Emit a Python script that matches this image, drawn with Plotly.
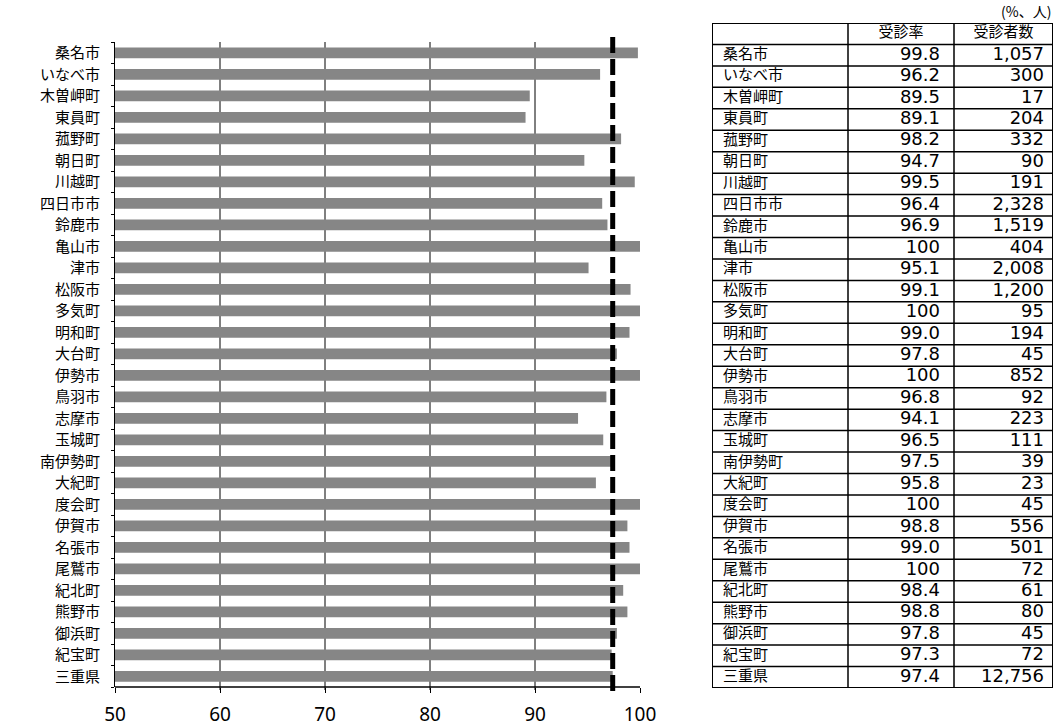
import plotly.graph_objects as go

# ---- data ----
NAMES = ["桑名市", "いなべ市", "木曽岬町", "東員町", "菰野町", "朝日町", "川越町",
         "四日市市", "鈴鹿市", "亀山市", "津市", "松阪市", "多気町", "明和町",
         "大台町", "伊勢市", "鳥羽市", "志摩市", "玉城町", "南伊勢町", "大紀町",
         "度会町", "伊賀市", "名張市", "尾鷲市", "紀北町", "熊野市", "御浜町",
         "紀宝町", "三重県"]
RATES = [99.8, 96.2, 89.5, 89.1, 98.2, 94.7, 99.5,
         96.4, 96.9, 100, 95.1, 99.1, 100, 99.0,
         97.8, 100, 96.8, 94.1, 96.5, 97.5, 95.8,
         100, 98.8, 99.0, 100, 98.4, 98.8, 97.8,
         97.3, 97.4]
COUNTS = [1057, 300, 17, 204, 332, 90, 191,
          2328, 1519, 404, 2008, 1200, 95, 194,
          45, 852, 92, 223, 111, 39, 23,
          45, 556, 501, 72, 61, 80, 45,
          72, 12756]
X_TICKS = [50, 60, 70, 80, 90, 100]
GRID_X = [60, 70, 80, 90]
HEADERS = ["受診率", "受診者数"]
UNIT_NOTE = "(%、人)"
PREF_NAME = "三重県"

W, H = 1061, 728


def px(v):
    return v / W


def py(v):
    return 1 - v / H


rate_text = ["100" if r == 100 else f"{r:.1f}" for r in RATES]
count_text = [f"{c:,}" for c in COUNTS]
pref_rate = RATES[NAMES.index(PREF_NAME)]

CJK = "Noto Sans CJK JP"
NUMF = "DejaVu Sans"

fig = go.Figure()

# ---- bar chart ----
fig.add_trace(go.Bar(
    x=RATES, y=NAMES, orientation="h",
    marker=dict(color="#868686", line=dict(width=0)),
    width=0.5, xaxis="x", yaxis="y", showlegend=False, hoverinfo="skip",
))

# ---- table (on its own hidden axes) ----
COL_EDGES = [0, 136, 242, 341]
n = len(NAMES)
rows_y = [i + 1.5 for i in range(n)]

fig.add_trace(go.Scatter(
    x=[COL_EDGES[0] + 11] * n, y=rows_y, text=NAMES, mode="text",
    textposition="middle right", textfont=dict(family=CJK, size=15, color="black"),
    xaxis="x2", yaxis="y2", showlegend=False, hoverinfo="skip",
))
fig.add_trace(go.Scatter(
    x=[COL_EDGES[2] - 14] * n, y=rows_y, text=rate_text, mode="text",
    textposition="middle left", textfont=dict(family=NUMF, size=18, color="black"),
    xaxis="x2", yaxis="y2", showlegend=False, hoverinfo="skip",
))
fig.add_trace(go.Scatter(
    x=[COL_EDGES[3] - 9] * n, y=rows_y, text=count_text, mode="text",
    textposition="middle left", textfont=dict(family=NUMF, size=18, color="black"),
    xaxis="x2", yaxis="y2", showlegend=False, hoverinfo="skip",
))
fig.add_trace(go.Scatter(
    x=[(COL_EDGES[1] + COL_EDGES[2]) / 2, (COL_EDGES[2] + COL_EDGES[3]) / 2],
    y=[0.5, 0.5], text=HEADERS, mode="text",
    textposition="middle center", textfont=dict(family=CJK, size=15, color="black"),
    xaxis="x2", yaxis="y2", showlegend=False, hoverinfo="skip",
))

shapes = []
# table borders
for k, xe in enumerate(COL_EDGES):
    outer = k in (0, len(COL_EDGES) - 1)
    shapes.append(dict(type="line", xref="x2", yref="y2", x0=xe, x1=xe, y0=0, y1=n + 1,
                       line=dict(color="black", width=2 if outer else 1.5)))
for r in range(n + 2):
    outer = r in (0, n + 1)
    shapes.append(dict(type="line", xref="x2", yref="y2", x0=COL_EDGES[0], x1=COL_EDGES[-1],
                       y0=r, y1=r, line=dict(color="black", width=2 if outer else 1.5)))

# chart gridlines
for g in GRID_X:
    shapes.append(dict(type="line", xref="x", yref="paper", x0=g, x1=g,
                       y0=py(690), y1=py(42), layer="below",
                       line=dict(color="black", width=1)))
# x axis line (50..100)
shapes.append(dict(type="line", xref="x", yref="paper", x0=X_TICKS[0], x1=X_TICKS[-1],
                   y0=py(687), y1=py(687), line=dict(color="black", width=1.5)))
# prefecture average dashed line
shapes.append(dict(type="line", xref="x", yref="paper", x0=pref_rate, x1=pref_rate,
                   y0=py(691), y1=py(33), line=dict(color="black", width=5, dash="16px,6px")))

fig.update_layout(
    width=W, height=H, template="none",
    margin=dict(l=0, r=0, t=0, b=0, pad=0),
    paper_bgcolor="white", plot_bgcolor="white",
    showlegend=False,
    xaxis=dict(domain=[px(115), px(650.5)], range=[50, 101], tickvals=X_TICKS,
               showgrid=False, zeroline=False, showline=False,
               ticks="outside", ticklen=5, tickcolor="black", tickwidth=1,
               tickfont=dict(family="Noto Sans", size=19, color="black"),
               ticklabelstandoff=5, automargin=False, fixedrange=True),
    yaxis=dict(domain=[py(687), py(42)], type="category",
               categoryorder="array", categoryarray=NAMES, autorange="reversed",
               tickmode="array", tickvals=NAMES, ticktext=NAMES,
               showgrid=False, zeroline=False, showline=True, linecolor="black", linewidth=1,
               ticks="outside", ticklen=3, tickcolor="black", tickson="boundaries",
               tickfont=dict(family=CJK, size=15, color="black"),
               ticklabelstandoff=11, automargin=False, fixedrange=True),
    xaxis2=dict(domain=[px(712), px(1053)], range=[0, COL_EDGES[-1]], visible=False,
                fixedrange=True),
    yaxis2=dict(domain=[py(688), py(23)], range=[n + 1, 0], visible=False,
                fixedrange=True, anchor="x2"),
    shapes=shapes,
    annotations=[dict(text=UNIT_NOTE, xref="paper", yref="paper", x=px(1053), y=py(11),
                      xanchor="right", yanchor="middle", showarrow=False,
                      font=dict(family=CJK, size=14, color="black"))],
)
fig.update_traces(cliponaxis=False, selector=dict(type="scatter"))

fig.write_html("out.html", config={"displayModeBar": False})
